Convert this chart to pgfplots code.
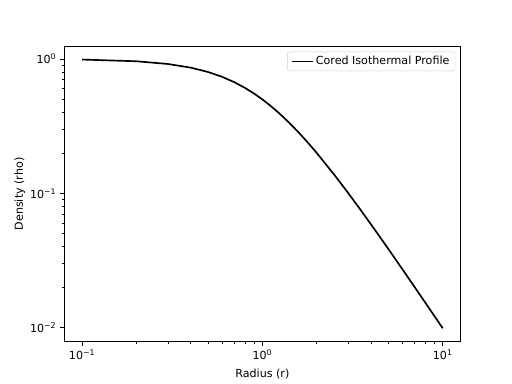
\documentclass[border=0pt]{standalone}
\usepackage{pgfplots}
\pgfplotsset{compat=1.18}
\usepackage{fontspec}
\setmainfont{DejaVu Sans}
\newcommand{\tenp}[1]{10\textsuperscript{#1}}
\begin{document}
\fontsize{10pt}{12pt}\selectfont
\begin{tikzpicture}
\useasboundingbox (-57.6pt,-37.98pt) rectangle (403.2pt,307.6pt);
\begin{axis}[
  at={(0,0)}, anchor=south west,
  scale only axis, width=357.1pt, height=266.1pt,
  xmode=log, ymode=log,
  xmin=0.07943, xmax=12.589, ymin=0.007863, ymax=1.2466,
  xlabel={Radius (r)}, ylabel={Density (rho)},
  xtick={0.1,1,10}, ytick={0.01,0.1,1},
  xticklabels={\tenp{−1},\tenp{0},\tenp{1}},
  yticklabels={\tenp{−2},\tenp{−1},\tenp{0}},
  tick align=outside, tick pos=left,
  major tick length=3.5pt, minor tick length=2pt,
  every tick/.style={black, line width=0.8pt},
  minor tick style={line width=0.6pt},
  axis line style={line width=0.8pt},
  tick label style={font=\fontsize{10pt}{12pt}\selectfont},
  label style={font=\fontsize{10pt}{12pt}\selectfont},
  xlabel style={yshift=-2pt},
  ylabel style={yshift=-2.5pt},
  legend style={at={(1,1)}, anchor=north east, xshift=-5pt, yshift=-5pt,
    draw=black!20, rounded corners=2pt, fill=white,
    font=\fontsize{10pt}{12pt}\selectfont, inner xsep=3pt, inner ysep=2pt},
  legend cell align=left,
  legend image post style={line width=1.5pt, black},
  legend image code/.code={\draw[#1, line width=1.5pt] (0pt,0pt) -- (19pt,0pt);},
]
\addplot[black, line width=1.5pt, line join=round] coordinates {
(0.1,0.990099) (0.2,0.961538) (0.3,0.917431) (0.4,0.862069) (0.5,0.8)
(0.6,0.735294) (0.7,0.671141) (0.8,0.609756) (0.9,0.552486) (1.0,0.5)
(1.1,0.452489) (1.2,0.409836) (1.3,0.371747) (1.4,0.337838) (1.5,0.307692)
(1.6,0.280899) (1.7,0.257069) (1.8,0.235849) (1.9,0.216920) (2.0,0.2)
(2.5,0.137931) (3.0,0.1) (3.5,0.075472) (4.0,0.058824) (4.5,0.047059)
(5,0.038462) (6,0.027027) (7,0.02) (8,0.015385) (9,0.012195) (10,0.009901)
};
\addlegendentry{Cored Isothermal Profile}
\end{axis}
\end{tikzpicture}
\end{document}
